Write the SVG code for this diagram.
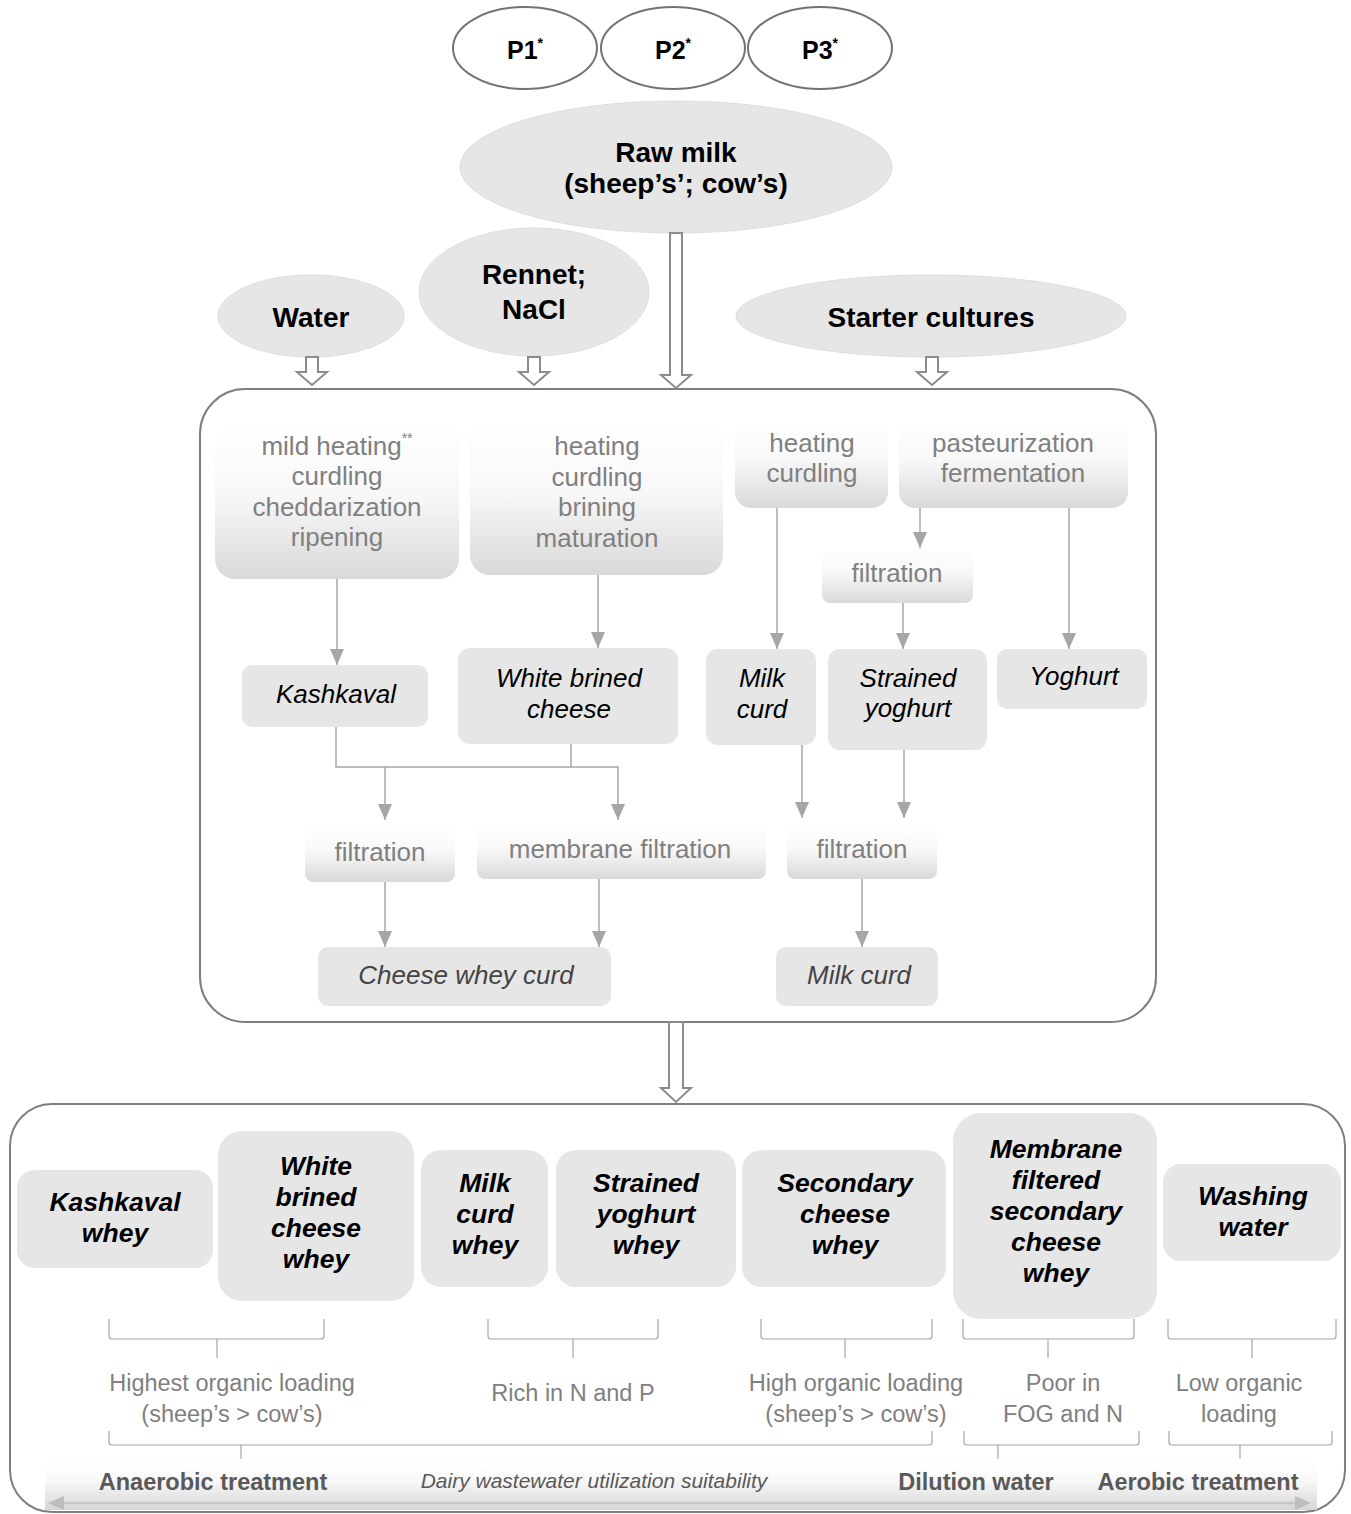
<svg xmlns="http://www.w3.org/2000/svg" width="1351" height="1514" viewBox="0 0 1351 1514">
<defs>
<linearGradient id="procGrad" x1="0" y1="0" x2="0" y2="1">
<stop offset="0" stop-color="#ffffff"/>
<stop offset="0.45" stop-color="#f8f8f8"/>
<stop offset="1" stop-color="#d9d9d9"/>
</linearGradient>
<linearGradient id="bandGrad" x1="0" y1="0" x2="0" y2="1">
<stop offset="0" stop-color="#ffffff" stop-opacity="0"/>
<stop offset="0.5" stop-color="#f6f6f6"/>
<stop offset="1" stop-color="#d6d6d6"/>
</linearGradient>
<marker id="ah" viewBox="0 0 16 14" refX="16" refY="7" markerWidth="16" markerHeight="14" markerUnits="userSpaceOnUse" orient="auto">
<path d="M0,0 L16,7 L0,14 Z" fill="#a6a6a6"/>
</marker>
</defs>
<style>
text { font-family: "Liberation Sans", Arial, sans-serif; }
.pell { fill: #ffffff; stroke: #737373; stroke-width: 2; }
.ell { fill: #e6e6e6; stroke: #dedede; stroke-width: 1; }
.lbl { font-weight: bold; font-size: 28px; fill: #000; text-anchor: middle; }
.plbl { font-weight: bold; font-size: 25px; fill: #000; text-anchor: middle; }
.proc { fill: url(#procGrad); }
.pt { font-size: 26px; fill: #808080; text-anchor: middle; }
.prod { fill: #e6e6e6; }
.it { font-style: italic; font-size: 26px; fill: #000; text-anchor: middle; }
.it2 { font-style: italic; font-size: 26px; fill: #444; text-anchor: middle; }
.frame { fill: none; stroke: #7f7f7f; stroke-width: 2; }
.conn { fill: none; stroke: #a6a6a6; stroke-width: 1.5; }
.hollow { fill: #ffffff; stroke: #8c8c8c; stroke-width: 2; }
.wt { font-weight: bold; font-style: italic; font-size: 26.5px; fill: #000; text-anchor: middle; }
.brace { fill: none; stroke: #a6a6a6; stroke-width: 1.2; }
.ann { font-size: 23.5px; fill: #808080; text-anchor: middle; }
.bl { font-weight: bold; font-size: 23.5px; fill: #595959; text-anchor: middle; }
.sup { font-size: 14px; }
</style>

<!-- frames -->
<g id="process-frame"><rect class="frame" x="200" y="389" width="956" height="633" rx="45"/></g>
<g id="wastewater-frame"><rect class="frame" x="10" y="1104" width="1335" height="408" rx="42"/></g>

<!-- top nodes -->
<g id="P1"><ellipse class="pell" cx="525" cy="48" rx="72" ry="41"/><text class="plbl" x="525" y="59">P1<tspan class="sup" dy="-11">*</tspan></text></g>
<g id="P2"><ellipse class="pell" cx="673" cy="48" rx="72" ry="41"/><text class="plbl" x="673" y="59">P2<tspan class="sup" dy="-11">*</tspan></text></g>
<g id="P3"><ellipse class="pell" cx="820" cy="48" rx="72" ry="41"/><text class="plbl" x="820" y="59">P3<tspan class="sup" dy="-11">*</tspan></text></g>

<g id="raw-milk"><ellipse class="ell" cx="676" cy="167" rx="216" ry="66"/>
<text class="lbl" x="676" y="162">Raw milk</text><text class="lbl" x="676" y="193">(sheep’s’; cow’s)</text></g>
<g id="water"><ellipse class="ell" cx="311" cy="316" rx="93" ry="41"/><text class="lbl" x="311" y="327">Water</text></g>
<g id="rennet"><ellipse class="ell" cx="534" cy="292" rx="115" ry="64"/>
<text class="lbl" x="534" y="284">Rennet;</text><text class="lbl" x="534" y="319">NaCl</text></g>
<g id="starter"><ellipse class="ell" cx="931" cy="316" rx="195" ry="41"/><text class="lbl" x="931" y="327">Starter cultures</text></g>

<!-- process steps -->
<g id="proc-kashkaval"><rect class="proc" x="215" y="423" width="244" height="156" rx="20"/>
<text class="pt" x="337" y="455">mild heating<tspan class="sup" dy="-12">**</tspan></text>
<text class="pt" x="337" y="485">curdling</text><text class="pt" x="337" y="516">cheddarization</text><text class="pt" x="337" y="546">ripening</text></g>
<g id="proc-white"><rect class="proc" x="470" y="423" width="253" height="152" rx="20"/>
<text class="pt" x="597" y="455">heating</text><text class="pt" x="597" y="486">curdling</text><text class="pt" x="597" y="516">brining</text><text class="pt" x="597" y="547">maturation</text></g>
<g id="proc-curd"><rect class="proc" x="735" y="420" width="153" height="88" rx="16"/>
<text class="pt" x="812" y="452">heating</text><text class="pt" x="812" y="482">curdling</text></g>
<g id="proc-yoghurt"><rect class="proc" x="899" y="420" width="229" height="88" rx="16"/>
<text class="pt" x="1013" y="452">pasteurization</text><text class="pt" x="1013" y="482">fermentation</text></g>
<g id="filtration-yoghurt"><rect class="proc" x="822" y="548" width="151" height="55" rx="8"/><text class="pt" x="897" y="582">filtration</text></g>

<!-- products -->
<g id="kashkaval"><rect class="prod" x="242" y="665" width="186" height="62" rx="10"/><text class="it" x="336" y="703">Kashkaval</text></g>
<g id="white-brined"><rect class="prod" x="458" y="648" width="220" height="96" rx="12"/>
<text class="it" x="569" y="687">White brined</text><text class="it" x="569" y="718">cheese</text></g>
<g id="milk-curd"><rect class="prod" x="706" y="649" width="110" height="96" rx="12"/>
<text class="it" x="762" y="687">Milk</text><text class="it" x="762" y="718">curd</text></g>
<g id="strained-yoghurt"><rect class="prod" x="828" y="649" width="159" height="101" rx="12"/>
<text class="it" x="908" y="687">Strained</text><text class="it" x="908" y="717">yoghurt</text></g>
<g id="yoghurt"><rect class="prod" x="997" y="649" width="150" height="60" rx="10"/><text class="it" x="1074" y="685">Yoghurt</text></g>

<g id="filtration-left"><rect class="proc" x="305" y="827" width="150" height="55" rx="8"/><text class="pt" x="380" y="861">filtration</text></g>
<g id="membrane-filtration"><rect class="proc" x="477" y="825" width="289" height="54" rx="8"/><text class="pt" x="620" y="858">membrane filtration</text></g>
<g id="filtration-right"><rect class="proc" x="787" y="825" width="150" height="54" rx="8"/><text class="pt" x="862" y="858">filtration</text></g>

<g id="cheese-whey-curd"><rect class="prod" x="318" y="947" width="293" height="59" rx="10"/><text class="it2" x="466" y="984">Cheese whey curd</text></g>
<g id="milk-curd-2"><rect class="prod" x="776" y="947" width="162" height="59" rx="10"/><text class="it2" x="859" y="984">Milk curd</text></g>

<!-- wastewater -->
<g id="kashkaval-whey"><rect class="prod" x="17" y="1170" width="196" height="98" rx="18"/>
<text class="wt" x="115" y="1211">Kashkaval</text><text class="wt" x="115" y="1242">whey</text></g>
<g id="white-brined-whey"><rect class="prod" x="218" y="1131" width="196" height="170" rx="24"/>
<text class="wt" x="316" y="1175">White</text><text class="wt" x="316" y="1206">brined</text><text class="wt" x="316" y="1237">cheese</text><text class="wt" x="316" y="1268">whey</text></g>
<g id="milk-curd-whey"><rect class="prod" x="421" y="1150" width="127" height="137" rx="20"/>
<text class="wt" x="485" y="1192">Milk</text><text class="wt" x="485" y="1223">curd</text><text class="wt" x="485" y="1254">whey</text></g>
<g id="strained-yoghurt-whey"><rect class="prod" x="556" y="1150" width="180" height="137" rx="20"/>
<text class="wt" x="646" y="1192">Strained</text><text class="wt" x="646" y="1223">yoghurt</text><text class="wt" x="646" y="1254">whey</text></g>
<g id="secondary-cheese-whey"><rect class="prod" x="742" y="1150" width="204" height="137" rx="20"/>
<text class="wt" x="845" y="1192">Secondary</text><text class="wt" x="845" y="1223">cheese</text><text class="wt" x="845" y="1254">whey</text></g>
<g id="membrane-whey"><rect class="prod" x="953" y="1113" width="204" height="206" rx="28"/>
<text class="wt" x="1056" y="1158">Membrane</text><text class="wt" x="1056" y="1189">filtered</text><text class="wt" x="1056" y="1220">secondary</text><text class="wt" x="1056" y="1251">cheese</text><text class="wt" x="1056" y="1282">whey</text></g>
<g id="washing-water"><rect class="prod" x="1163" y="1164" width="178" height="97" rx="18"/>
<text class="wt" x="1253" y="1205">Washing</text><text class="wt" x="1253" y="1236">water</text></g>

<!-- braces and characteristics -->
<g id="characteristics">
<path class="brace" d="M109,1319 V1336 Q109,1339 112,1339 H321 Q324,1339 324,1336 V1319 M217,1339 V1358"/>
<path class="brace" d="M488,1319 V1336 Q488,1339 491,1339 H655 Q658,1339 658,1336 V1319 M573,1339 V1358"/>
<path class="brace" d="M761,1319 V1336 Q761,1339 764,1339 H929 Q932,1339 932,1336 V1319 M845,1339 V1358"/>
<path class="brace" d="M963,1319 V1336 Q963,1339 966,1339 H1131 Q1134,1339 1134,1336 V1319 M1048,1339 V1358"/>
<path class="brace" d="M1168,1319 V1336 Q1168,1339 1171,1339 H1333 Q1336,1339 1336,1336 V1319 M1252,1339 V1358"/>
<text class="ann" x="232" y="1391">Highest organic loading</text>
<text class="ann" x="232" y="1422">(sheep’s &gt; cow’s)</text>
<text class="ann" x="573" y="1401">Rich in N and P</text>
<text class="ann" x="856" y="1391">High organic loading</text>
<text class="ann" x="856" y="1422">(sheep’s &gt; cow’s)</text>
<text class="ann" x="1063" y="1391">Poor in</text>
<text class="ann" x="1063" y="1422">FOG and N</text>
<text class="ann" x="1239" y="1391">Low organic</text>
<text class="ann" x="1239" y="1422">loading</text>
<path class="brace" d="M109,1431 V1442 Q109,1445 112,1445 H929 Q932,1445 932,1442 V1431 M241,1445 V1459"/>
<path class="brace" d="M964,1431 V1442 Q964,1445 967,1445 H1136 Q1139,1445 1139,1442 V1431 M998,1445 V1459"/>
<path class="brace" d="M1169,1431 V1442 Q1169,1445 1172,1445 H1329 Q1332,1445 1332,1442 V1431 M1240,1445 V1459"/>
</g>

<g id="suitability-scale">
<rect x="45" y="1455" width="1272" height="55" fill="url(#bandGrad)"/>
<path d="M62,1503 H1297" stroke="#c6c6c6" stroke-width="2.5" fill="none"/>
<polygon points="48,1503 64,1496 64,1510" fill="#bdbdbd"/>
<polygon points="1311,1503 1295,1496 1295,1510" fill="#bdbdbd"/>
<text class="bl" x="213" y="1490">Anaerobic treatment</text>
<text x="594" y="1488" font-style="italic" font-size="21px" fill="#595959" text-anchor="middle">Dairy wastewater utilization suitability</text>
<text class="bl" x="976" y="1490">Dilution water</text>
<text class="bl" x="1198" y="1490">Aerobic treatment</text>
</g>

<!-- connectors -->
<g id="connectors">
<path class="hollow" d="M306,357 V372 H297 L312,385 L327,372 H318 V357 Z"/>
<path class="hollow" d="M528,357 V372 H519 L534,385 L549,372 H540 V357 Z"/>
<path class="hollow" d="M670,233 V375 H661 L676,388 L691,375 H682 V233 Z"/>
<path class="hollow" d="M926,357 V372 H917 L932,385 L947,372 H938 V357 Z"/>
<path class="hollow" d="M669,1022 V1088 H661 L676,1102 L691,1088 H683 V1022 Z"/>
<path class="conn" d="M337,579 V665" marker-end="url(#ah)"/>
<path class="conn" d="M598,575 V648" marker-end="url(#ah)"/>
<path class="conn" d="M777,508 V649" marker-end="url(#ah)"/>
<path class="conn" d="M920,508 V548" marker-end="url(#ah)"/>
<path class="conn" d="M903,603 V649" marker-end="url(#ah)"/>
<path class="conn" d="M1069,508 V649" marker-end="url(#ah)"/>
<path class="conn" d="M336,727 V767 H618 V820" marker-end="url(#ah)"/>
<path class="conn" d="M571,744 V767"/>
<path class="conn" d="M385,767 V820" marker-end="url(#ah)"/>
<path class="conn" d="M802,745 V818" marker-end="url(#ah)"/>
<path class="conn" d="M904,750 V818" marker-end="url(#ah)"/>
<path class="conn" d="M385,882 V947" marker-end="url(#ah)"/>
<path class="conn" d="M599,879 V947" marker-end="url(#ah)"/>
<path class="conn" d="M862,879 V947" marker-end="url(#ah)"/>
</g>
</svg>
